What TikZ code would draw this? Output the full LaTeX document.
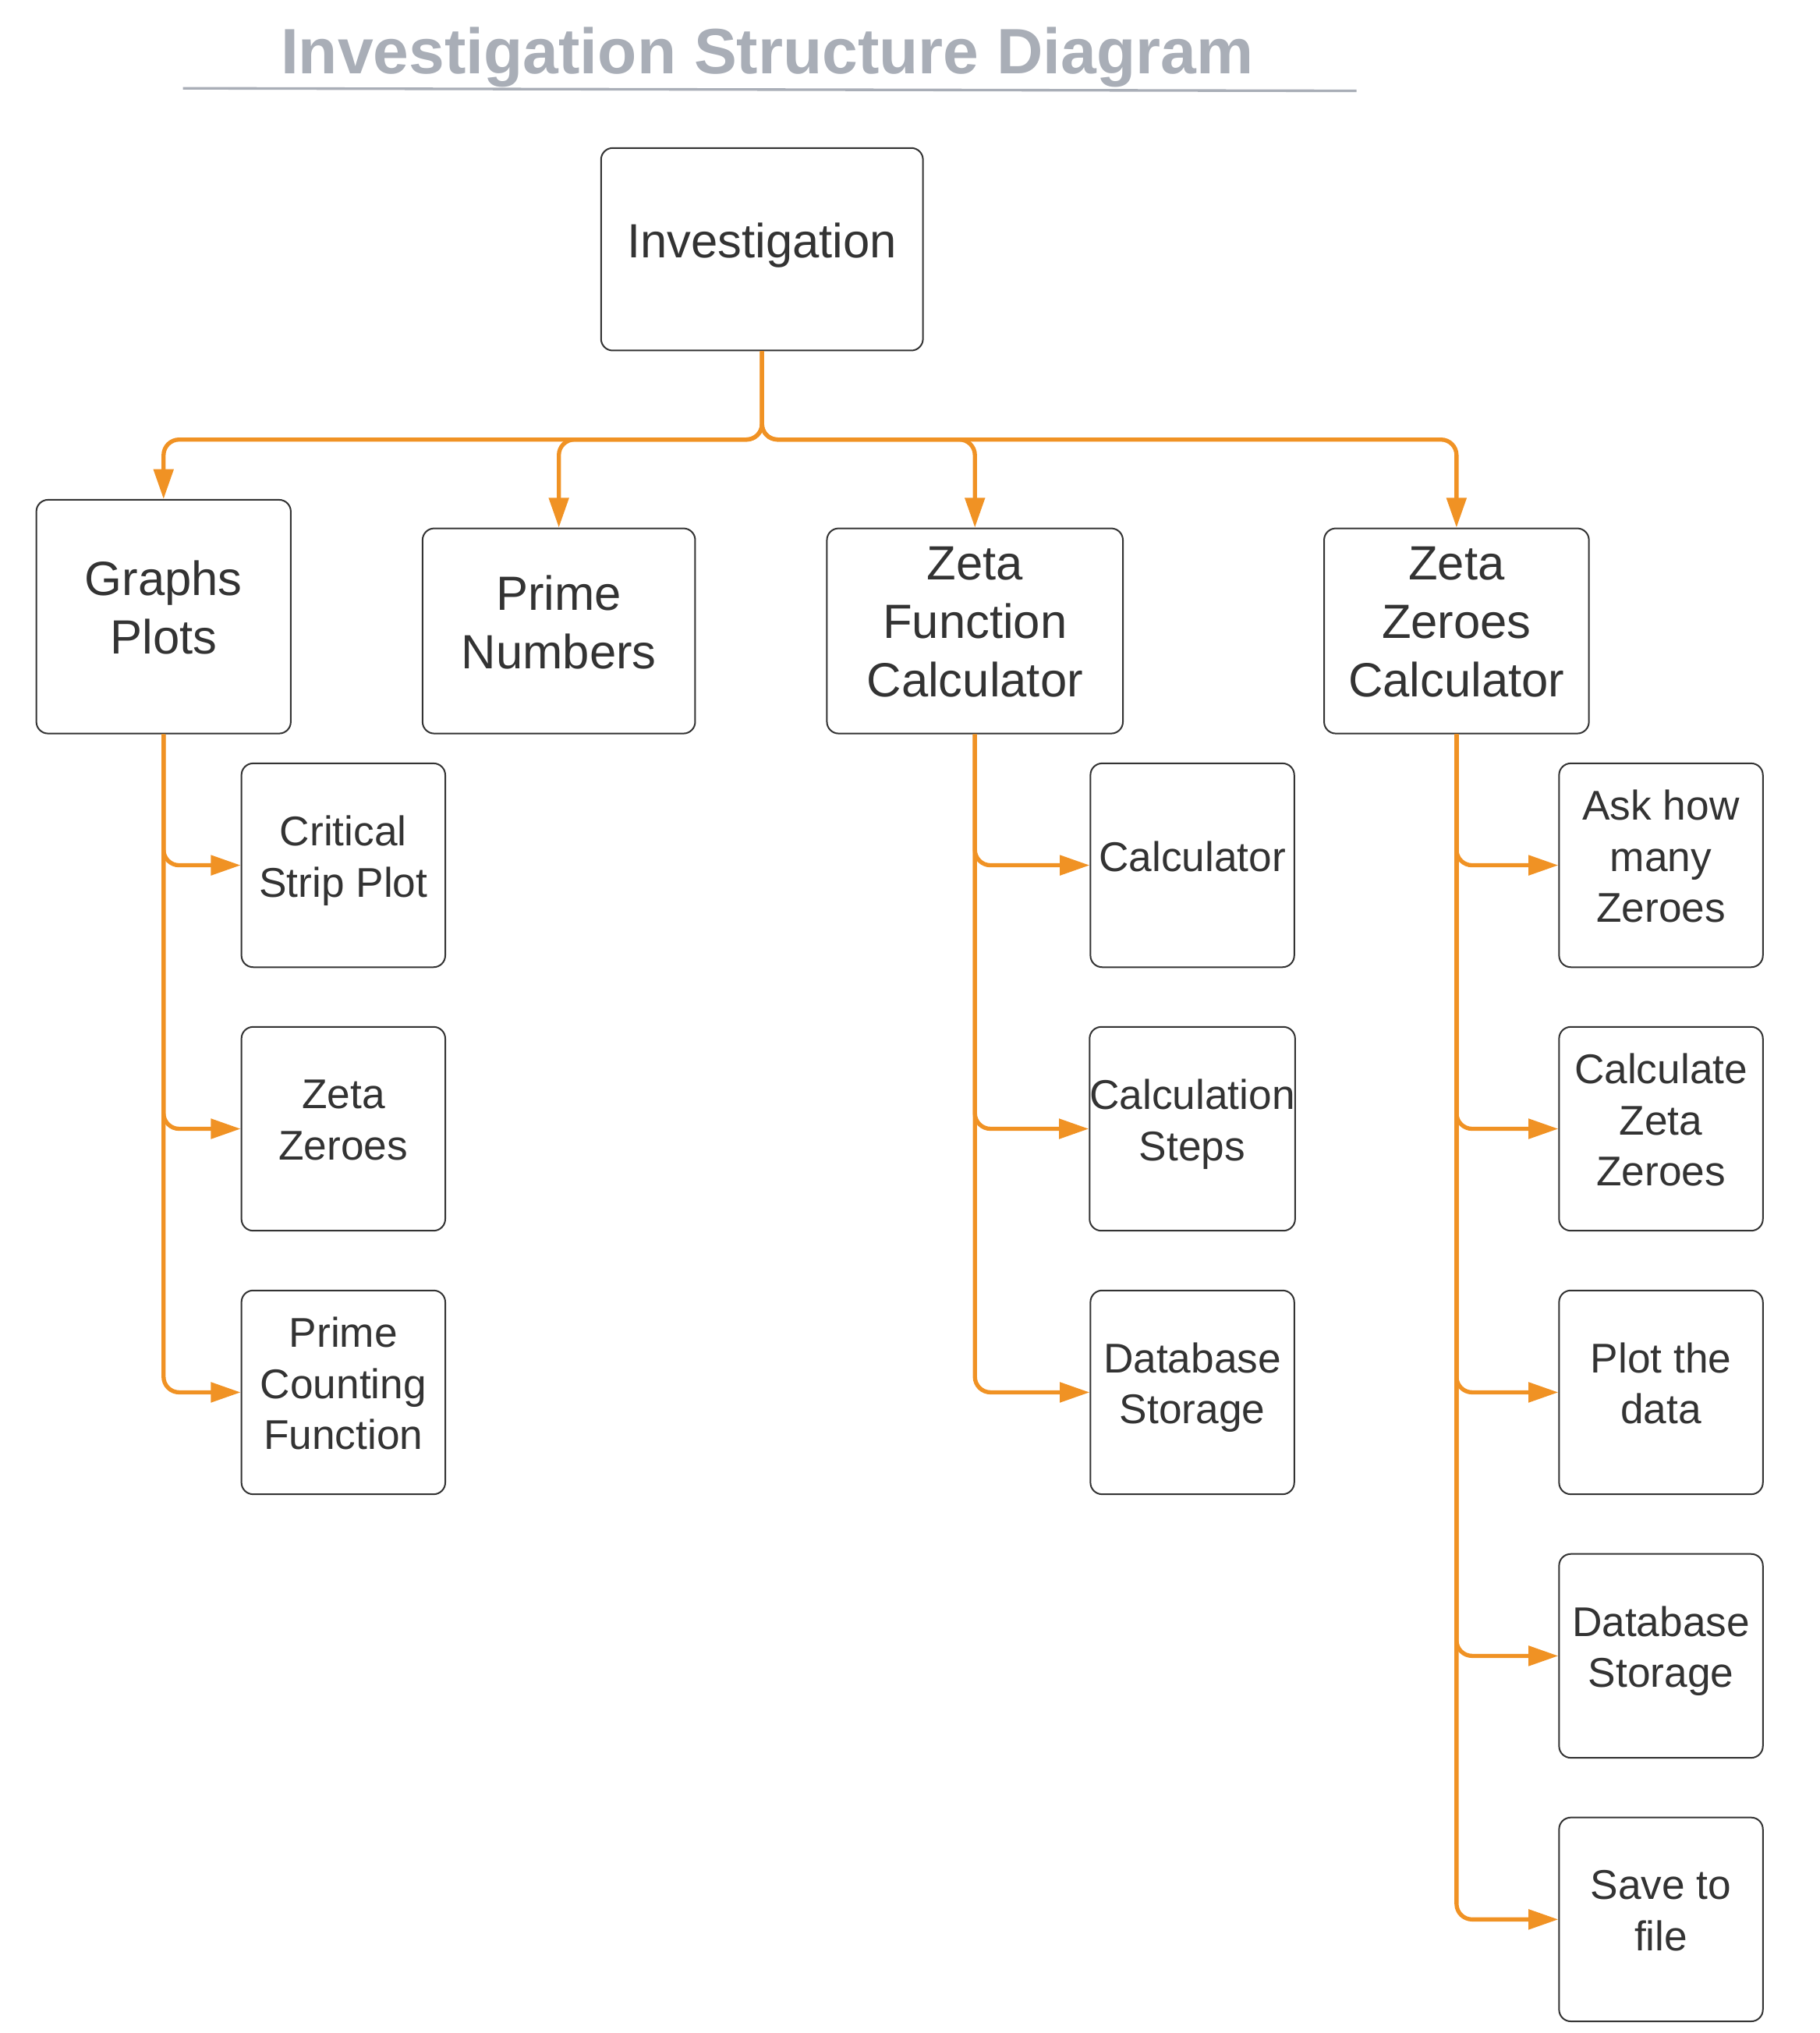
\documentclass[tikz,border=0pt]{standalone}
\usepackage{fontspec}
\setmainfont{Liberation Sans}
\usepackage{xcolor}
\usetikzlibrary{arrows.meta}

\definecolor{linkorange}{RGB}{240,146,36}
\definecolor{titlegrey}{RGB}{169,174,183}
\definecolor{boxtext}{RGB}{51,51,51}

\tikzset{
  mainbox/.style={draw=boxtext,line width=1.2pt,rounded corners=9pt,text=boxtext,
    align=center,inner sep=0pt,text depth=14pt,font=\fontsize{37}{45}\selectfont},
  subbox/.style={draw=boxtext,line width=1.2pt,rounded corners=9pt,text=boxtext,
    align=center,inner sep=0pt,text depth=14pt,minimum width=157pt,minimum height=157pt,
    font=\fontsize{32}{39.5}\selectfont},
  link/.style={draw=linkorange,line width=3.2pt,rounded corners=12pt,
    -{Triangle[length=23pt,width=15pt]}}
}

\begin{document}
\begin{tikzpicture}[x=1pt,y=-1pt]
\useasboundingbox (0,0) rectangle (1402,1566);

% title
\node[text=titlegrey,font=\fontsize{49.4}{58}\selectfont\bfseries] (title) at (591,44) {Investigation Structure Diagram};
\draw[titlegrey,line width=2pt](141,68) -- (1045,70);

% top level
\node[mainbox,minimum width=248pt,minimum height=156pt] (inv) at (587,192) {Investigation};
\node[mainbox,minimum width=196pt,minimum height=180pt] (graphs) at (126,475) {Graphs\\Plots};
\node[mainbox,minimum width=210pt,minimum height=158pt] (prime) at (430.5,486) {Prime\\Numbers};
\node[mainbox,minimum width=228pt,minimum height=158pt] (zfc) at (751,486) {Zeta\\Function\\Calculator};
\node[mainbox,minimum width=204pt,minimum height=158pt] (zzc) at (1122,486) {Zeta\\Zeroes\\Calculator};

\foreach \n in {graphs,prime,zfc,zzc}
  \draw[link] (inv.south) -- ++(0,68) -| (\n.north);

% graphs plots
\foreach \t [count=\i] in {{Critical\\Strip Plot},{Zeta\\Zeroes},{Prime\\Counting\\Function}}{
  \node[subbox] (gp\i) at (264.5,666.5+203*\i-203) {\t};
  \draw[link] (graphs.south) |- (gp\i.west);
}

% zeta function calculator
\foreach \t [count=\i] in {{Calculator},{Calculation\\Steps},{Database\\Storage}}{
  \node[subbox] (zf\i) at (918.5,666.5+203*\i-203) {\t};
  \draw[link] (zfc.south) |- (zf\i.west);
}

% zeta zeroes calculator
\foreach \t [count=\i] in {{Ask how\\many\\Zeroes},{Calculate\\Zeta\\Zeroes},{Plot the\\data},{Database\\Storage},{Save to\\file}}{
  \node[subbox] (zz\i) at (1279.5,666.5+203*\i-203) {\t};
  \draw[link] (zzc.south) |- (zz\i.west);
}
\end{tikzpicture}
\end{document}
